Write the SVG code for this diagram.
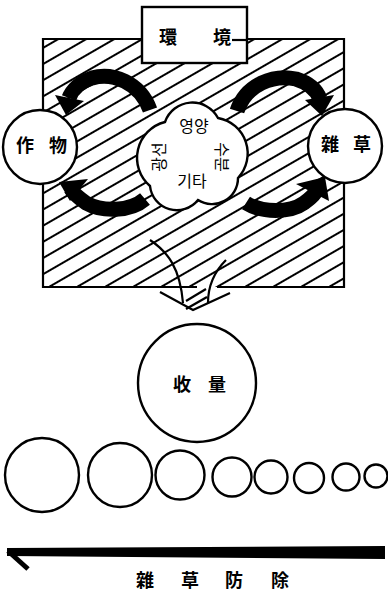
<svg xmlns="http://www.w3.org/2000/svg" width="388" height="591" viewBox="0 0 388 591">
<style>
.ln{fill:none;stroke:#000;stroke-width:2.2}
.nd{fill:#fff;stroke:#000;stroke-width:2.4}
.tx{font-family:"Noto Sans CJK KR","Noto Sans CJK JP",sans-serif;font-size:18px;font-weight:bold;fill:#000;text-anchor:middle}
.ko{font-family:"Noto Sans CJK KR",sans-serif;font-size:16px;fill:#000;text-anchor:middle}
.arc{fill:none;stroke:#000;stroke-width:15;stroke-linecap:butt}
</style>
<defs>
<pattern id="hatch" patternUnits="userSpaceOnUse" width="20" height="14" patternTransform="rotate(-30)">
<line x1="0" y1="7" x2="20" y2="7" stroke="#000" stroke-width="2"/>
</pattern>
</defs>
<g id="environment-field">
<rect x="43" y="39" width="301" height="248" fill="url(#hatch)"/>
<path class="ln" d="M217,287 L344,287 L344,39 L43,39 L43,287 L197,287"/>
</g>
<g id="env">
<rect class="nd" x="142" y="7" width="105" height="56"/>
<line class="ln" x1="232" y1="40" x2="247" y2="40" stroke-width="1.5"/>
<text class="tx" x="168" y="44">環</text>
<text class="tx" x="222" y="44">境</text>
</g>
<g id="connectors">
<path class="arc" d="M150,110 C140,82 112,72 92,78 C80,82 72,90 69,98"/>
<polygon points="55,95 84,101 66,115"/>
<path class="arc" d="M145,199 C130,212 102,212 86,203 C79,198 73,193 71,189"/>
<polygon points="59,182 88,179 70,201"/>
<path class="arc" d="M237,111 C246,84 274,74 296,79 C309,83 317,91 320,99"/>
<polygon points="305,100 334,95 322,116"/>
<path class="arc" d="M246,203 C262,213 290,213 304,203 C311,198 316,193 318,188"/>
<polygon points="296,184 325,177 329,201"/>
<path class="ln" d="M150,240 C168,252 180,268 183,303"/>
<path class="ln" d="M226,260 C214,272 208,285 208,303"/>
<path class="ln" d="M160,292 L193,310 L230,293"/>
<line class="ln" x1="186" y1="301" x2="206" y2="289" stroke-width="1.6"/>
<line class="ln" x1="186" y1="309" x2="207" y2="297" stroke-width="1.6"/>
<path d="M7,548 L385,546 L385,559 L7,556 Z" fill="#000"/>
<line x1="8" y1="551" x2="28" y2="569" stroke="#000" stroke-width="5"/>
</g>
<g id="crop">
<circle class="nd" cx="40" cy="147" r="37"/>
<text class="tx" x="25" y="152">作</text>
<text class="tx" x="58" y="152">物</text>
</g>
<g id="weed">
<circle class="nd" cx="345" cy="146" r="37"/>
<text class="tx" x="330" y="151">雜</text>
<text class="tx" x="362" y="151">草</text>
</g>
<g id="resources">
<path class="nd" d="M165,122 A29,29 0 0 1 218,118 A36,36 0 0 1 238,178 A26,26 0 0 1 198,200 A27,27 0 0 1 150,186 A37,37 0 0 1 165,122 Z"/>
<text class="ko" x="194" y="132">영양</text>
<text class="ko" x="192" y="187">기타</text>
<text class="ko" transform="translate(165,157) rotate(-90)">광선</text>
<text class="ko" transform="translate(216,157) rotate(90)">수분</text>
</g>
<g id="yield">
<circle class="nd" cx="197" cy="383" r="59"/>
<text class="tx" x="182" y="391">收</text>
<text class="tx" x="217" y="391">量</text>
</g>
<g id="yield-scale">
<circle class="nd" cx="42" cy="475" r="37"/>
<circle class="nd" cx="120" cy="475" r="32"/>
<circle class="nd" cx="180" cy="475" r="24.5"/>
<circle class="nd" cx="232" cy="477" r="19.5"/>
<circle class="nd" cx="271" cy="477" r="16.5"/>
<circle class="nd" cx="309" cy="478" r="15"/>
<circle class="nd" cx="346" cy="477" r="13.5"/>
<circle class="nd" cx="376" cy="476" r="11.5"/>
</g>
<g id="weed-control">
<text class="tx" x="145" y="587" font-size="17">雜</text>
<text class="tx" x="190" y="587" font-size="17">草</text>
<text class="tx" x="234" y="587" font-size="17">防</text>
<text class="tx" x="280" y="587" font-size="17">除</text>
</g>
</svg>
